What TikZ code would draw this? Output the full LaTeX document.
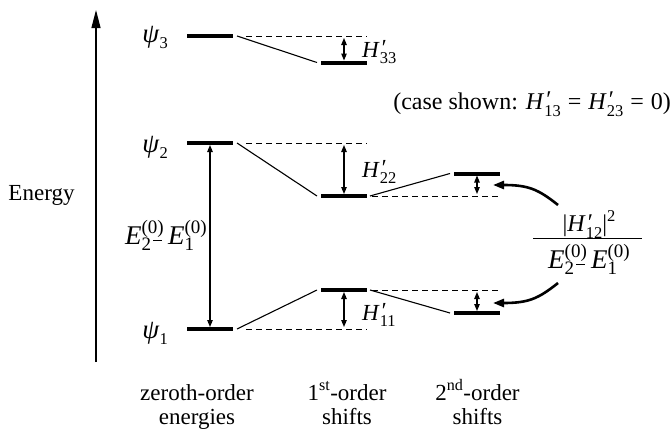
\documentclass[tikz,border=0pt]{standalone}
\usepackage{fontspec}
\setmainfont{Liberation Serif}
\usetikzlibrary{arrows.meta,calc}
\newcommand\sbs[1]{\raisebox{-0.3em}{\fontsize{16.5}{16.5}\selectfont #1}}
\newcommand\sps[1]{\raisebox{0.42em}{\fontsize{16.5}{16.5}\selectfont #1}}
\newcommand\sbb[1]{\raisebox{-0.25em}{\fontsize{19}{19}\selectfont #1}}
\newcommand\spb[1]{\raisebox{0.4em}{\fontsize{19}{19}\selectfont #1}}
\newcommand\Hp[1]{\textit{H}\rlap{\kern0.5pt\raisebox{0.05em}{\textit{′}}}\sbs{#1}}
\newcommand\Ez[1]{\textit{E}\rlap{\spb{(0)}}\sbb{#1}}
\newcommand\Ezz[1]{\textit{E}\rlap{\sbb{#1}}\spb{(0)}}
\newcommand\psis[1]{{\fontsize{27}{27}\selectfont\textit{ψ}}\sbs{#1}}
\newcommand\Ediff{{\fontsize{27}{28}\selectfont\Ez{2}\kern2pt\raisebox{3pt}{\rule{9pt}{1.2pt}}\hspace{6pt}\Ezz{1}}}
\begin{document}
\begin{tikzpicture}[x=1pt,y=-1pt,
  font=\fontsize{23}{24}\selectfont,
  lvl/.style={fill=black, minimum width=46pt, minimum height=4pt, inner sep=0pt, outer sep=0pt},
  thinln/.style={line width=1.1pt},
  dsh/.style={line width=1pt, dash pattern=on 6pt off 4pt},
  dbl/.style={line width=1.1pt, {Triangle[length=7pt,width=5.5pt]}-{Triangle[length=7pt,width=5.5pt]}},
  curv/.style={line width=2.6pt, -{Triangle[length=11pt,width=8pt]}},
  lbl/.style={inner sep=0pt, anchor=base west},
  lblr/.style={inner sep=0pt, anchor=base east},
]
\useasboundingbox (0,0) rectangle (672,431);

% energy axis
\coordinate (ax0) at (96,362);
\coordinate (ax1) at (96,10);
\draw[line width=1.2pt, -{Triangle[length=18pt,width=9pt]}] (ax0) -- (ax1);
\node[inner sep=0pt, anchor=base] (energy) at (41.5,200.5) {Energy};

% levels
\node[lvl] (z3) at (210,36) {};
\node[lvl] (z2) at (210,143) {};
\node[lvl] (z1) at (210,329) {};
\node[lvl] (f3) at (344,62.5) {};
\node[lvl] (f2) at (344,196) {};
\node[lvl] (f1) at (344,290) {};
\node[lvl] (s2) at (477,173.5) {};
\node[lvl] (s1) at (477,313) {};

% psi labels
\node[lblr] (p3) at (168,42) {\psis{3}};
\node[lblr] (p2) at (168,152) {\psis{2}};
\node[lblr] (p1) at (168,338) {\psis{1}};

% dashed reference lines
\draw[dsh] ($(z3.east)+(13,0)$) -- (f3.east |- z3);
\draw[dsh] ($(z2.east)+(13,0)$) -- (f2.east |- z2);
\draw[dsh] ($(z1.east)+(13,0)$) -- (f1.east |- z1);
\draw[dsh] ($(f2.east)+(5,0)$) -- (s2.east |- f2);
\draw[dsh] ($(f1.east)+(5,0)$) -- (s1.east |- f1);

% solid connectors
\draw[thinln] ($(z3.east)+(4,0)$) -- ($(f3.west)+(-4,0)$);
\draw[thinln] ($(z2.east)+(4,0)$) -- ($(f2.west)+(-4,0)$);
\draw[thinln] ($(z1.east)+(4,0)$) -- ($(f1.west)+(-4,0)$);
\draw[thinln] ($(f2.east)+(3,0)$) -- ($(s2.west)+(-4,0)$);
\draw[thinln] ($(f1.east)+(3,0)$) -- ($(s1.west)+(-4,0)$);

% shift arrows
\draw[dbl] (f3.north |- z3.south) -- (f3.north);
\draw[dbl] (f2.north |- z2.south) -- (f2.north);
\draw[dbl] (f1.south) -- (f1.south |- z1.north);
\draw[dbl] (s2.south) -- (s2.south |- f2.north);
\draw[dbl] (s1.north |- f1.south) -- (s1.north);
\draw[dbl] (z2.south) -- (z1.north);

% shift labels
\node[lbl] (h33) at (362,57) {\Hp{33}};
\node[lbl] (h22) at (362,177) {\Hp{22}};
\node[lbl] (h11) at (362,320) {\Hp{11}};
\node[lblr] (ediff) at (207,244) {\Ediff};

% case shown
\node[lblr, font=\fontsize{24}{26}\selectfont] (case) at (671,109) {(case shown: \Hp{13}\hspace{7pt}=\hspace{7pt}\Hp{23}\hspace{7pt}=\hspace{7pt}0)};

% fraction
\node[inner sep=0pt, anchor=base, font=\fontsize{24}{26}\selectfont] (num) at (589,231.5) {|\Hp{12}|\sps{2}};
\node[fill=black, minimum width=109pt, minimum height=1.2pt, inner sep=0pt] (bar) at (587.5,238.3) {};
\node[inner sep=0pt, anchor=base] (den) at (589,268) {\Ediff};

% curved arrows
\coordinate (a2) at (558,205);
\coordinate (t2) at (493,185);
\coordinate (a1) at (558,283);
\coordinate (t1) at (493,303);
\draw[curv] (a2) .. controls (538,189) and (528,185) .. (t2);
\draw[curv] (a1) .. controls (538,299) and (528,303) .. (t1);

% bottom labels
\node[inner sep=0pt, anchor=base, align=center] (c0) at (197,424) {zeroth-order\\energies};
\node[inner sep=0pt, anchor=base, align=center] (c1) at (347,424) {1\textsuperscript{st}-order\\shifts};
\node[inner sep=0pt, anchor=base, align=center] (c2) at (477.5,424) {2\textsuperscript{nd}-order\\shifts};
\end{tikzpicture}
\end{document}
